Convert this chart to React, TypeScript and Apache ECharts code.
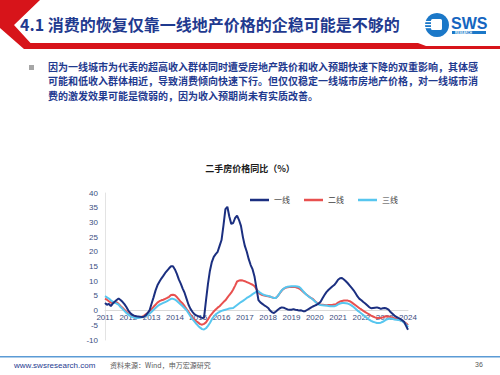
import React, { useEffect, useRef } from "react";
import * as echarts from "echarts";

const years = ["2011","2012","2013","2014","2015","2016","2017","2018","2019","2020","2021","2022","2023","2024"];
const lastYearMonths = 1;

const seriesNames = ["一线", "二线", "三线"];

const tier1 = [
  2.6, 2.0, 2.3, 1.5, 2.4, 3.0, 3.6, 4.1, 3.6, 3.0, 2.2, 1.2,
  0.0, -0.8, -1.4, -1.7, -1.9, -2.0, -2.1, -2.2, -2.1, -1.6, -0.8, 0.2,
  2.4, 4.5, 6.8, 8.6, 9.8, 10.9, 11.8, 12.8, 13.6, 14.4, 15.1, 15.1,
  14.0, 12.5, 10.6, 9.2, 7.5, 6.0, 4.0, 2.0, 0.6, -0.4, -1.2, -1.6,
  -1.9, -2.2, -2.5, -2.4, 3.5, 9.0, 13.5, 16.5, 18.3, 19.2, 20.0, 22.0,
  24.0, 29.0, 34.5, 35.3, 32.0, 29.5, 29.8, 31.5, 32.3, 30.8, 28.8, 25.0,
  22.0, 20.0, 17.5, 15.5, 14.0, 11.5, 7.5, 3.6, 2.8, 2.3, 1.8, 1.4,
  0.9, 0.0, -0.6, -0.8, -0.3, 0.3, 0.8, 1.1, 1.0, 0.7, 0.4, 0.3,
  0.3, 0.5, 0.3, 0.2, 0.0, 0.1, -0.2, -0.2, 0.2, 0.6, 1.0, 1.4,
  1.7, 2.0, 2.4, 3.0, 4.2, 5.3, 6.3, 7.0, 7.6, 8.2, 8.7, 9.5,
  10.5, 11.0, 11.1, 10.6, 10.0, 9.3, 8.5, 7.7, 6.9, 5.9, 4.8, 4.0,
  3.5, 2.9, 2.4, 1.8, 1.2, 0.8, 0.9, 1.0, 1.1, 0.9, 0.6, 0.8,
  0.9, 0.7, 0.3, -0.5, -1.1, -1.7, -2.1, -2.5, -2.8, -3.3, -3.8, -5.2,
  -6.5,
];

const tier2 = [
  4.1, 3.7, 3.2, 2.7, 2.5, 2.9, 2.8, 2.3, 1.6, 1.0, 0.3, -0.4,
  -1.0, -1.5, -1.8, -2.0, -2.1, -2.2, -2.2, -2.1, -1.8, -1.3, -0.8, -0.2,
  0.5, 1.3, 2.0, 2.7, 3.2, 3.5, 3.7, 4.0, 4.3, 4.7, 5.3, 5.4,
  5.2, 4.6, 3.8, 3.0, 2.4, 1.5, 0.5, -0.4, -1.4, -2.3, -3.0, -3.6,
  -4.1, -4.6, -4.8, -4.5, -4.0, -3.0, -1.9, -1.1, -0.3, 0.4, 1.0, 1.5,
  2.2, 2.9, 3.5, 4.4, 5.3, 6.1, 7.2, 8.5, 9.9, 10.2, 10.3, 10.2,
  10.0, 9.7, 9.4, 9.1, 8.8, 8.3, 7.3, 6.2, 5.6, 5.3, 5.1, 5.0,
  4.9, 4.7, 4.5, 4.3, 4.4, 5.0, 5.9, 6.8, 7.4, 7.8, 7.9, 8.0,
  8.0, 8.0, 8.0, 7.8, 7.5, 7.0, 6.4, 5.8, 5.3, 4.8, 4.3, 4.0,
  3.3, 2.7, 2.3, 2.1, 2.0, 1.9, 1.8, 1.9, 1.9, 1.9, 2.1, 2.2,
  2.7, 3.1, 3.3, 3.4, 3.4, 3.4, 3.2, 2.8, 2.3, 1.8, 1.3, 0.8,
  0.4, -0.1, -0.5, -0.9, -1.3, -1.7, -2.0, -2.3, -2.5, -2.5, -2.5, -2.3,
  -2.0, -1.9, -2.0, -2.2, -2.4, -2.6, -2.8, -3.0, -3.3, -3.6, -3.9, -4.3,
  -5.0,
];

const tier3 = [
  4.9, 4.5, 4.1, 3.5, 3.0, 2.7, 2.4, 2.0, 1.2, 0.6, -0.1, -0.8,
  -1.3, -1.8, -2.2, -2.4, -2.5, -2.5, -2.4, -2.3, -2.1, -1.8, -1.5, -1.0,
  -0.4, 0.3, 0.9, 1.5, 2.0, 2.3, 2.6, 2.9, 3.2, 3.6, 4.0, 4.0,
  3.8, 3.3, 2.7, 2.1, 1.5, 0.8, 0.1, -0.9, -1.9, -2.9, -3.7, -4.5,
  -5.2, -5.8, -6.3, -6.4, -6.0, -5.2, -4.2, -3.0, -2.0, -1.3, -0.8, -0.4,
  -0.1, 0.1, 0.3, 0.5, 0.7, 0.8, 0.9, 1.4, 1.9, 2.4, 2.9, 3.3,
  3.8, 4.3, 4.7, 5.1, 5.6, 6.0, 6.5, 6.6, 6.0, 5.6, 5.3, 5.1,
  5.0, 4.8, 4.5, 4.3, 4.3, 5.0, 6.0, 6.9, 7.5, 7.9, 8.1, 8.2,
  8.3, 8.3, 8.3, 8.2, 8.0, 7.4, 6.6, 5.9, 5.2, 4.7, 4.3, 3.8,
  3.2, 2.6, 2.1, 1.9, 1.8, 1.7, 1.7, 1.6, 1.5, 1.5, 1.5, 1.7,
  2.1, 2.4, 2.6, 2.6, 2.5, 2.4, 2.1, 1.7, 1.2, 0.6, 0.0, -0.5,
  -1.0, -1.5, -2.1, -2.6, -3.1, -3.5, -3.8, -4.0, -4.2, -4.2, -4.1, -3.8,
  -3.4, -3.0, -2.8, -2.7, -2.8, -3.0, -3.1, -3.2, -3.3, -3.6, -4.1, -4.7,
  -5.6,
];

const yMin = -10;
const yMax = 40;
const yInterval = 5;

const titleText = "4.1 消费的恢复仅靠一线地产价格的企稳可能是不够的";
const bulletLines = [
  "因为一线城市为代表的超高收入群体同时遭受房地产跌价和收入预期快速下降的双重影响，其体感",
  "可能和低收入群体相近，导致消费倾向快速下行。但仅仅稳定一线城市房地产价格，对一线城市消",
  "费的激发效果可能是微弱的，因为收入预期尚未有实质改善。",
];
const chartTitle = "二手房价格同比（%）";
const footerUrl = "www.swsresearch.com";
const footerSource = "资料来源：Wind，申万宏源研究";
const pageNo = "36";

const months: string[] = [];
years.forEach((y, i) => {
  const n = i === years.length - 1 ? lastYearMonths : 12;
  for (let m = 1; m <= n; m++) months.push(`${y}-${m < 10 ? "0" + m : m}`);
});

const NAVY = "#1f3a8f";
const CJK = '"Noto Sans CJK SC", "Noto Sans", sans-serif';
const LAT = '"Liberation Sans", "DejaVu Sans", sans-serif';

const GRID_TOP = 193;
const GRID_BOTTOM = 35;
const GRID_H = 375 - GRID_TOP - GRID_BOTTOM;

export default function App() {
  const ref = useRef<HTMLDivElement>(null);
  useEffect(() => {
    if (!ref.current) return;
    const chart = echarts.init(ref.current, null, { renderer: "svg" });
    const zeroOffset = -GRID_H * (0 - yMin) / (yMax - yMin);
    const graphic: any[] = [
      {
        type: "polygon",
        shape: { points: [[0, 0], [40, 0], [14, 25], [36, 49], [24, 49], [0, 28]] },
        style: { fill: "#d7141a" },
      },
      {
        type: "polygon",
        shape: { points: [[28, 43], [418, 43], [426, 46], [500, 46], [500, 49], [30, 49]] },
        style: { fill: "#d7141a" },
      },
      {
        type: "text",
        left: 20,
        top: 16,
        style: { text: titleText, fill: NAVY, font: `bold 16px ${CJK}` },
      },
      { type: "circle", shape: { cx: 437, cy: 25, r: 12 }, style: { fill: "#1b78c8" } },
      { type: "rect", shape: { x: 431, y: 19, width: 11, height: 11, r: 1.5 }, style: { fill: "#ffffff" } },
      { type: "rect", shape: { x: 425, y: 21, width: 6, height: 1.2 }, style: { fill: "#ffffff" } },
      { type: "rect", shape: { x: 425, y: 24, width: 6, height: 1.2 }, style: { fill: "#ffffff" } },
      { type: "rect", shape: { x: 425, y: 27, width: 6, height: 1.2 }, style: { fill: "#ffffff" } },
      {
        type: "text",
        left: 451,
        top: 15,
        style: { text: "SWS", fill: "#1565c0", font: `bold 16px ${LAT}` },
      },
      { type: "rect", shape: { x: 452, y: 31, width: 34, height: 3 }, style: { fill: "#1b78c8" } },
      {
        type: "text",
        left: 455,
        top: 31,
        style: { text: "RESEARCH", fill: "#ffffff", font: `bold 3px ${LAT}` },
      },
      { type: "rect", shape: { x: 29, y: 65, width: 5, height: 5 }, style: { fill: "#a6a6a6" } },
      ...bulletLines.map((t, i) => ({
        type: "text",
        left: 48,
        top: 61 + i * 14.7,
        style: { text: t, fill: NAVY, font: `bold 10px ${CJK}` },
      })),
      { type: "rect", shape: { x: 0, y: 356, width: 500, height: 1.5 }, style: { fill: "#5b9bd5" } },
      {
        type: "text",
        left: 14,
        top: 361,
        style: { text: footerUrl, fill: "#1f3a8f", font: `8px ${LAT}` },
      },
      {
        type: "text",
        left: 110,
        top: 361,
        style: { text: footerSource, fill: "#595959", font: `7px ${CJK}` },
      },
      {
        type: "text",
        left: 475,
        top: 361,
        style: { text: pageNo, fill: "#595959", font: `7px ${LAT}` },
      },
    ];

    chart.setOption({
      animation: false,
      backgroundColor: "#ffffff",
      title: {
        text: chartTitle,
        left: "center",
        top: 159,
        textStyle: { fontSize: 9, fontWeight: "bold", color: "#1a1a1a", fontFamily: CJK },
      },
      legend: {
        data: seriesNames,
        left: 250,
        top: 196,
        icon: "rect",
        itemWidth: 19,
        itemHeight: 2.5,
        itemGap: 14,
        padding: 0,
        textStyle: { fontSize: 8, color: "#404040", fontFamily: CJK },
      },
      grid: { left: 105, right: 92, top: GRID_TOP, bottom: GRID_BOTTOM, containLabel: false },
      xAxis: {
        type: "category",
        data: months,
        boundaryGap: false,
        offset: zeroOffset,
        axisLine: { show: true, onZero: false, lineStyle: { color: "#d9d9d9", width: 1 } },
        axisTick: { show: false },
        splitLine: { show: false },
        axisLabel: {
          interval: (index: number) => index % 12 === 0,
          formatter: (v: string) => v.slice(0, 4),
          color: "#3b4e80",
          fontSize: 8,
          fontFamily: LAT,
          margin: 3,
        },
      },
      yAxis: {
        type: "value",
        min: yMin,
        max: yMax,
        interval: yInterval,
        axisLine: { show: true, lineStyle: { color: "#e3e3e3", width: 1 } },
        axisTick: { show: false },
        splitLine: { show: false },
        axisLabel: { color: "#3b4e80", fontSize: 8, fontFamily: LAT, margin: 7 },
      },
      series: [
        { name: seriesNames[0], type: "line", data: tier1, showSymbol: false, z: 4, lineStyle: { color: "#1b2f80", width: 2 }, itemStyle: { color: "#1b2f80" } },
        { name: seriesNames[1], type: "line", data: tier2, showSymbol: false, z: 2, lineStyle: { color: "#e8504f", width: 2 }, itemStyle: { color: "#e8504f" } },
        { name: seriesNames[2], type: "line", data: tier3, showSymbol: false, z: 3, lineStyle: { color: "#57c6ef", width: 2 }, itemStyle: { color: "#57c6ef" } },
      ],
      graphic,
    });
    return () => chart.dispose();
  }, []);
  return <div ref={ref} style={{ position: "fixed", left: 0, top: 0, width: 500, height: 375 }} />;
}
